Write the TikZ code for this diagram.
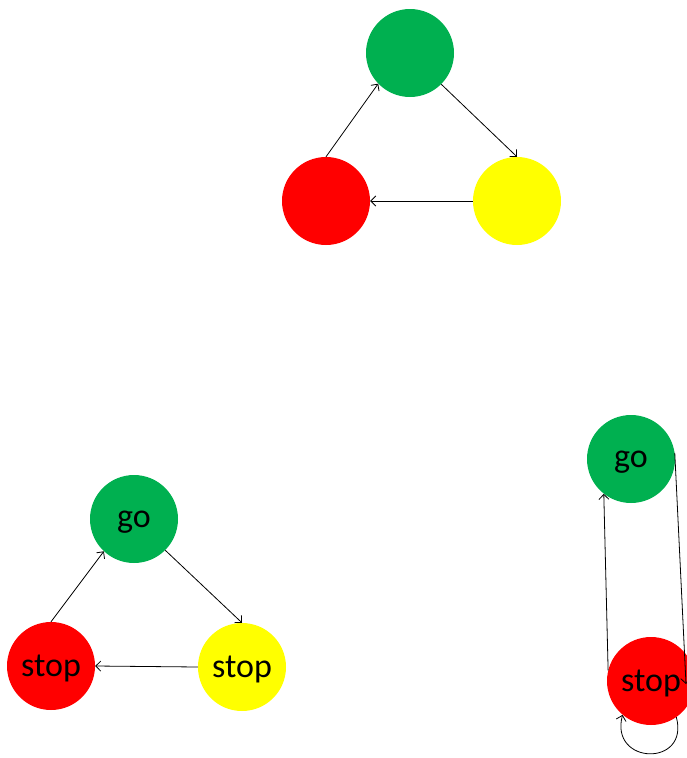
\documentclass[tikz,border=0pt]{standalone}
\usepackage{fontspec}
\setmainfont{Carlito}
\usetikzlibrary{arrows.meta}
\definecolor{offgreen}{RGB}{0,176,80}
\definecolor{offred}{RGB}{255,0,0}
\definecolor{offyellow}{RGB}{255,255,0}
\begin{document}
\begin{tikzpicture}[x=1pt,y=-1pt,
  light/.style={circle,minimum size=88pt,inner sep=0pt,draw=none,text depth=0pt,font=\fontsize{34}{36}\selectfont},
  gl/.style={light,fill=offgreen},
  rl/.style={light,fill=offred},
  yl/.style={light,fill=offyellow},
  arr/.style={line width=0.8pt,-{Straight Barb[length=5pt,width=10pt]}}]
\useasboundingbox (0,0) rectangle (687,758);
\clip (0,0) rectangle (687,758);
% top triangle
\node[gl] (g1) at (410,53) {};
\node[rl] (r1) at (326,201) {};
\node[yl] (y1) at (517,201) {};
\draw[arr] (r1.90) -- (g1.224);
\draw[arr] (g1.-45) -- (y1.90);
\draw[arr] (y1.180) -- (r1.0);
% bottom-left triangle
\node[gl] (g2) at (134,519) {go};
\node[rl] (r2) at (51,666) {stop};
\node[yl] (y2) at (242,667) {stop};
\draw[arr] (r2.90) -- (g2.227);
\draw[arr] (g2.-45) -- (y2.90);
\draw[arr] (y2.180) -- (r2.0);
% bottom-right pair
\node[gl] (g3) at (631,459) {go};
\node[rl] (r3) at (651,681) {stop};
\coordinate (e3) at (686,684);
\draw[arr] (r3.166) -- (g3.232);
\draw[arr] (g3.8) -- (e3);
\draw[arr] (r3.-55) .. controls +(75:52) and +(105:52) .. (r3.-130);
\end{tikzpicture}
\end{document}
